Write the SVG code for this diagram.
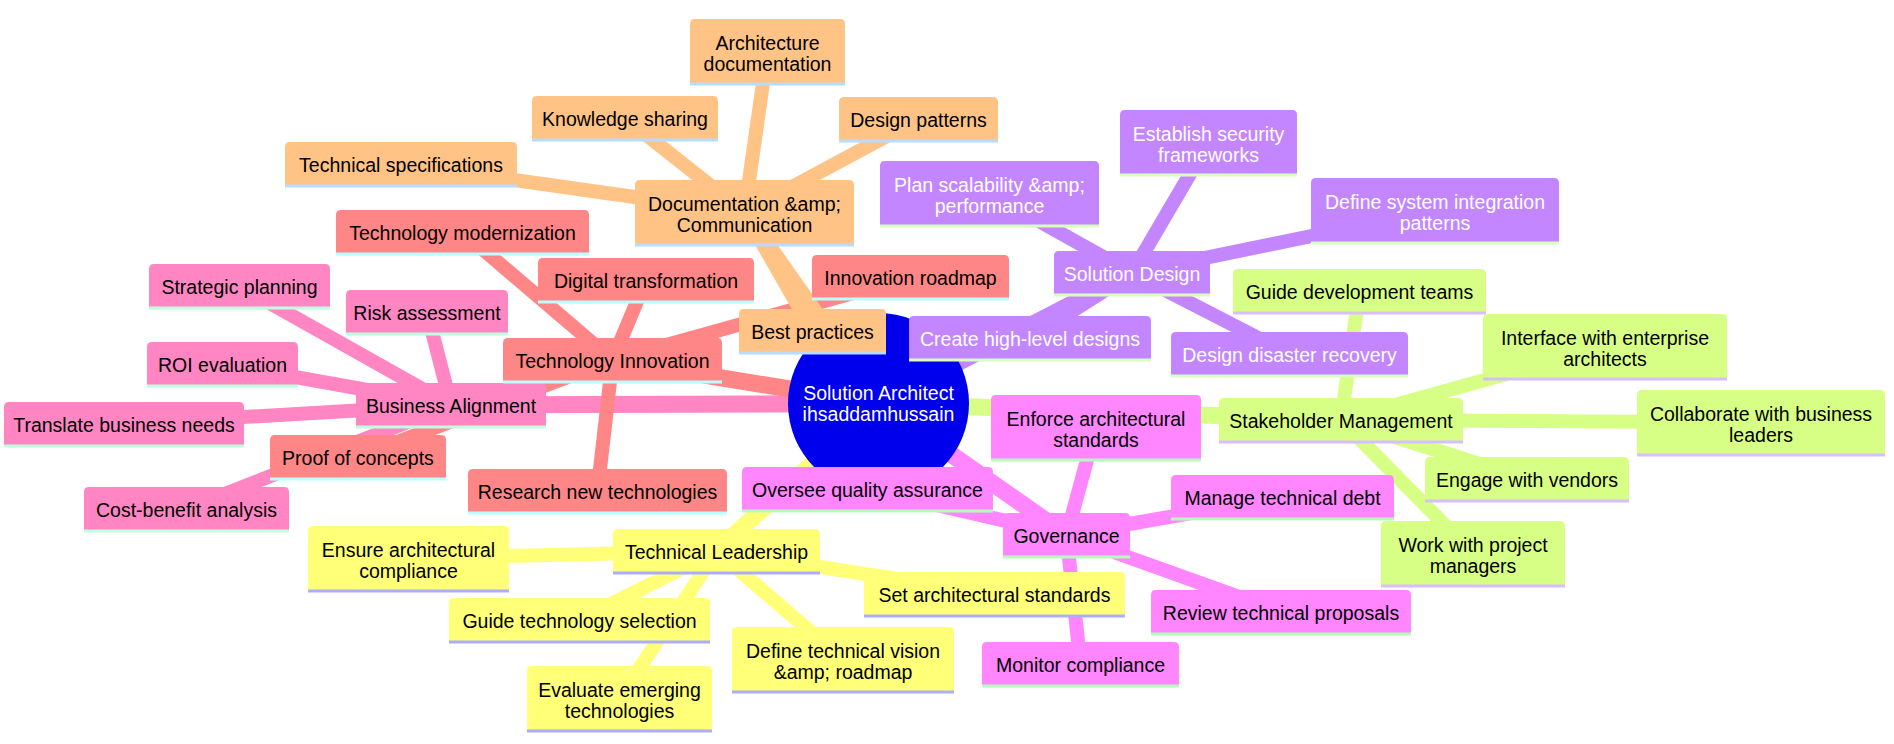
<svg xmlns="http://www.w3.org/2000/svg" width="1894" height="744" viewBox="0 0 1894 744">
<style>
text{font-family:"Liberation Sans",Arial,sans-serif;font-size:19.5px;text-anchor:middle;fill:#000}
.node line{stroke-width:3}
.c0{stroke:hsl(60,100%,73.5%)} .c1{stroke:hsl(80,100%,76.3%)} .c2{stroke:hsl(270,100%,76.3%)} .c3{stroke:hsl(300,100%,76.3%)} .c4{stroke:hsl(330,100%,76.3%)} .c5{stroke:hsl(0,100%,76.3%)} .c6{stroke:hsl(30,100%,76.3%)}
.d0{stroke-width:17;fill:none}
.d1{stroke-width:14;fill:none}
.s0 path{fill:hsl(60,100%,73.5%)} .s0 line{stroke:hsl(240,100%,84%)}
.s1 path{fill:hsl(80,100%,76.3%)} .s1 line{stroke:hsl(265,100%,87%)}
.s2 path{fill:hsl(270,100%,76.3%)} .s2 line{stroke:hsl(95,100%,87%)} .s2 text{fill:#fff}
.s3 path{fill:hsl(300,100%,76.3%)} .s3 line{stroke:hsl(125,90%,85%)}
.s4 path{fill:hsl(330,100%,76.3%)} .s4 line{stroke:hsl(150,100%,87%)}
.s5 path{fill:hsl(0,100%,76.3%)} .s5 line{stroke:hsl(180,100%,86%)}
.s6 path{fill:hsl(30,100%,76.3%)} .s6 line{stroke:hsl(210,100%,86%)}
.root circle{fill:hsl(240,100%,46.3%)} .root text{fill:#fff}
</style>
<rect width="1894" height="744" fill="#fff"/>
<g id="connectors">
<line class="c0 d0" x1="878.5" y1="403.5" x2="716.5" y2="551"/>
<line class="c0 d1" x1="716.5" y1="551" x2="408.5" y2="558.5"/>
<line class="c0 d1" x1="716.5" y1="551" x2="579.5" y2="620"/>
<line class="c0 d1" x1="716.5" y1="551" x2="619.5" y2="698.5"/>
<line class="c0 d1" x1="716.5" y1="551" x2="843" y2="659.5"/>
<line class="c0 d1" x1="716.5" y1="551" x2="994.5" y2="594"/>
<line class="c1 d0" x1="878.5" y1="403.5" x2="1341" y2="420"/>
<line class="c1 d1" x1="1341" y1="420" x2="1359.5" y2="291"/>
<line class="c1 d1" x1="1341" y1="420" x2="1605" y2="346.5"/>
<line class="c1 d1" x1="1341" y1="420" x2="1761" y2="422.5"/>
<line class="c1 d1" x1="1341" y1="420" x2="1527" y2="479"/>
<line class="c1 d1" x1="1341" y1="420" x2="1473" y2="553.5"/>
<line class="c2 d0" x1="878.5" y1="403.5" x2="1132" y2="273"/>
<line class="c2 d1" x1="1132" y1="273" x2="1030" y2="338"/>
<line class="c2 d1" x1="1132" y1="273" x2="989.5" y2="193.5"/>
<line class="c2 d1" x1="1132" y1="273" x2="1208.5" y2="142.5"/>
<line class="c2 d1" x1="1132" y1="273" x2="1435" y2="210.5"/>
<line class="c2 d1" x1="1132" y1="273" x2="1289.5" y2="354"/>
<line class="c3 d0" x1="878.5" y1="403.5" x2="1066.5" y2="535"/>
<line class="c3 d1" x1="1066.5" y1="535" x2="1096" y2="427.5"/>
<line class="c3 d1" x1="1066.5" y1="535" x2="867.5" y2="489"/>
<line class="c3 d1" x1="1066.5" y1="535" x2="1282.5" y2="497"/>
<line class="c3 d1" x1="1066.5" y1="535" x2="1281" y2="612"/>
<line class="c3 d1" x1="1066.5" y1="535" x2="1080.5" y2="664"/>
<line class="c4 d0" x1="878.5" y1="403.5" x2="451" y2="405"/>
<line class="c4 d1" x1="451" y1="405" x2="239.5" y2="286"/>
<line class="c4 d1" x1="451" y1="405" x2="427" y2="312"/>
<line class="c4 d1" x1="451" y1="405" x2="222.5" y2="364"/>
<line class="c4 d1" x1="451" y1="405" x2="124" y2="424"/>
<line class="c4 d1" x1="451" y1="405" x2="186.5" y2="509"/>
<line class="c5 d0" x1="878.5" y1="403.5" x2="612.5" y2="360"/>
<line class="c5 d1" x1="612.5" y1="360" x2="462.5" y2="232"/>
<line class="c5 d1" x1="612.5" y1="360" x2="646" y2="280"/>
<line class="c5 d1" x1="612.5" y1="360" x2="910.5" y2="277"/>
<line class="c5 d1" x1="612.5" y1="360" x2="358" y2="457"/>
<line class="c5 d1" x1="612.5" y1="360" x2="597.5" y2="491"/>
<line class="c6 d0" x1="878.5" y1="403.5" x2="744.5" y2="212.5"/>
<line class="c6 d1" x1="744.5" y1="212.5" x2="767.5" y2="51.5"/>
<line class="c6 d1" x1="744.5" y1="212.5" x2="625" y2="118"/>
<line class="c6 d1" x1="744.5" y1="212.5" x2="918.5" y2="119"/>
<line class="c6 d1" x1="744.5" y1="212.5" x2="401" y2="164"/>
<line class="c6 d1" x1="744.5" y1="212.5" x2="812.5" y2="331"/>
</g>
<g id="root" class="root">
<circle cx="878.5" cy="403.5" r="90.5"/>
<text x="878.5" y="399.5">Solution Architect</text>
<text x="878.5" y="420.5">ihsaddamhussain</text>
</g>
<g id="technical-leadership" class="node s0"><path d="M613,573V534Q613,529 618,529H815Q820,529 820,534V573Z"/><line x1="613" y1="573" x2="820" y2="573"/><text x="716.5" y="558.5">Technical Leadership</text></g>
<g id="ensure-compliance" class="node s0"><path d="M308,591V531Q308,526 313,526H504Q509,526 509,531V591Z"/><line x1="308" y1="591" x2="509" y2="591"/><text x="408.5" y="557">Ensure architectural</text><text x="408.5" y="578">compliance</text></g>
<g id="guide-tech-selection" class="node s0"><path d="M449,642V603Q449,598 454,598H705Q710,598 710,603V642Z"/><line x1="449" y1="642" x2="710" y2="642"/><text x="579.5" y="627.5">Guide technology selection</text></g>
<g id="evaluate-emerging" class="node s0"><path d="M527,731V671Q527,666 532,666H707Q712,666 712,671V731Z"/><line x1="527" y1="731" x2="712" y2="731"/><text x="619.5" y="697">Evaluate emerging</text><text x="619.5" y="718">technologies</text></g>
<g id="define-vision" class="node s0"><path d="M732,692V632Q732,627 737,627H949Q954,627 954,632V692Z"/><line x1="732" y1="692" x2="954" y2="692"/><text x="843" y="658">Define technical vision</text><text x="843" y="679">&amp;amp; roadmap</text></g>
<g id="set-standards" class="node s0"><path d="M864,616V577Q864,572 869,572H1120Q1125,572 1125,577V616Z"/><line x1="864" y1="616" x2="1125" y2="616"/><text x="994.5" y="601.5">Set architectural standards</text></g>
<g id="stakeholder-management" class="node s1"><path d="M1219,442V403Q1219,398 1224,398H1458Q1463,398 1463,403V442Z"/><line x1="1219" y1="442" x2="1463" y2="442"/><text x="1341" y="427.5">Stakeholder Management</text></g>
<g id="guide-dev-teams" class="node s1"><path d="M1233,313V274Q1233,269 1238,269H1481Q1486,269 1486,274V313Z"/><line x1="1233" y1="313" x2="1486" y2="313"/><text x="1359.5" y="298.5">Guide development teams</text></g>
<g id="interface-ea" class="node s1"><path d="M1483,379V319Q1483,314 1488,314H1722Q1727,314 1727,319V379Z"/><line x1="1483" y1="379" x2="1727" y2="379"/><text x="1605" y="345">Interface with enterprise</text><text x="1605" y="366">architects</text></g>
<g id="collaborate-business" class="node s1"><path d="M1637,455V395Q1637,390 1642,390H1880Q1885,390 1885,395V455Z"/><line x1="1637" y1="455" x2="1885" y2="455"/><text x="1761" y="421">Collaborate with business</text><text x="1761" y="442">leaders</text></g>
<g id="engage-vendors" class="node s1"><path d="M1425,501V462Q1425,457 1430,457H1624Q1629,457 1629,462V501Z"/><line x1="1425" y1="501" x2="1629" y2="501"/><text x="1527" y="486.5">Engage with vendors</text></g>
<g id="work-pm" class="node s1"><path d="M1381,586V526Q1381,521 1386,521H1560Q1565,521 1565,526V586Z"/><line x1="1381" y1="586" x2="1565" y2="586"/><text x="1473" y="552">Work with project</text><text x="1473" y="573">managers</text></g>
<g id="solution-design" class="node s2"><path d="M1054,295V256Q1054,251 1059,251H1205Q1210,251 1210,256V295Z"/><line x1="1054" y1="295" x2="1210" y2="295"/><text x="1132" y="280.5">Solution Design</text></g>
<g id="create-hld" class="node s2"><path d="M909,360V321Q909,316 914,316H1146Q1151,316 1151,321V360Z"/><line x1="909" y1="360" x2="1151" y2="360"/><text x="1030" y="345.5">Create high-level designs</text></g>
<g id="plan-scalability" class="node s2"><path d="M880,226V166Q880,161 885,161H1094Q1099,161 1099,166V226Z"/><line x1="880" y1="226" x2="1099" y2="226"/><text x="989.5" y="192">Plan scalability &amp;amp;</text><text x="989.5" y="213">performance</text></g>
<g id="security-frameworks" class="node s2"><path d="M1120,175V115Q1120,110 1125,110H1292Q1297,110 1297,115V175Z"/><line x1="1120" y1="175" x2="1297" y2="175"/><text x="1208.5" y="141">Establish security</text><text x="1208.5" y="162">frameworks</text></g>
<g id="integration-patterns" class="node s2"><path d="M1311,243V183Q1311,178 1316,178H1554Q1559,178 1559,183V243Z"/><line x1="1311" y1="243" x2="1559" y2="243"/><text x="1435" y="209">Define system integration</text><text x="1435" y="230">patterns</text></g>
<g id="disaster-recovery" class="node s2"><path d="M1171,376V337Q1171,332 1176,332H1403Q1408,332 1408,337V376Z"/><line x1="1171" y1="376" x2="1408" y2="376"/><text x="1289.5" y="361.5">Design disaster recovery</text></g>
<g id="governance" class="node s3"><path d="M1003,557V518Q1003,513 1008,513H1125Q1130,513 1130,518V557Z"/><line x1="1003" y1="557" x2="1130" y2="557"/><text x="1066.5" y="542.5">Governance</text></g>
<g id="enforce-standards" class="node s3"><path d="M991,460V400Q991,395 996,395H1196Q1201,395 1201,400V460Z"/><line x1="991" y1="460" x2="1201" y2="460"/><text x="1096" y="426">Enforce architectural</text><text x="1096" y="447">standards</text></g>
<g id="oversee-qa" class="node s3"><path d="M742,511V472Q742,467 747,467H988Q993,467 993,472V511Z"/><line x1="742" y1="511" x2="993" y2="511"/><text x="867.5" y="496.5">Oversee quality assurance</text></g>
<g id="manage-debt" class="node s3"><path d="M1171,519V480Q1171,475 1176,475H1389Q1394,475 1394,480V519Z"/><line x1="1171" y1="519" x2="1394" y2="519"/><text x="1282.5" y="504.5">Manage technical debt</text></g>
<g id="review-proposals" class="node s3"><path d="M1151,634V595Q1151,590 1156,590H1406Q1411,590 1411,595V634Z"/><line x1="1151" y1="634" x2="1411" y2="634"/><text x="1281" y="619.5">Review technical proposals</text></g>
<g id="monitor-compliance" class="node s3"><path d="M982,686V647Q982,642 987,642H1174Q1179,642 1179,647V686Z"/><line x1="982" y1="686" x2="1179" y2="686"/><text x="1080.5" y="671.5">Monitor compliance</text></g>
<g id="business-alignment" class="node s4"><path d="M356,427V388Q356,383 361,383H541Q546,383 546,388V427Z"/><line x1="356" y1="427" x2="546" y2="427"/><text x="451" y="412.5">Business Alignment</text></g>
<g id="strategic-planning" class="node s4"><path d="M149,308V269Q149,264 154,264H325Q330,264 330,269V308Z"/><line x1="149" y1="308" x2="330" y2="308"/><text x="239.5" y="293.5">Strategic planning</text></g>
<g id="risk-assessment" class="node s4"><path d="M346,334V295Q346,290 351,290H503Q508,290 508,295V334Z"/><line x1="346" y1="334" x2="508" y2="334"/><text x="427" y="319.5">Risk assessment</text></g>
<g id="roi-evaluation" class="node s4"><path d="M147,386V347Q147,342 152,342H293Q298,342 298,347V386Z"/><line x1="147" y1="386" x2="298" y2="386"/><text x="222.5" y="371.5">ROI evaluation</text></g>
<g id="translate-needs" class="node s4"><path d="M4,446V407Q4,402 9,402H239Q244,402 244,407V446Z"/><line x1="4" y1="446" x2="244" y2="446"/><text x="124" y="431.5">Translate business needs</text></g>
<g id="cost-benefit" class="node s4"><path d="M84,531V492Q84,487 89,487H284Q289,487 289,492V531Z"/><line x1="84" y1="531" x2="289" y2="531"/><text x="186.5" y="516.5">Cost-benefit analysis</text></g>
<g id="technology-innovation" class="node s5"><path d="M503,382V343Q503,338 508,338H717Q722,338 722,343V382Z"/><line x1="503" y1="382" x2="722" y2="382"/><text x="612.5" y="367.5">Technology Innovation</text></g>
<g id="tech-modernization" class="node s5"><path d="M336,254V215Q336,210 341,210H584Q589,210 589,215V254Z"/><line x1="336" y1="254" x2="589" y2="254"/><text x="462.5" y="239.5">Technology modernization</text></g>
<g id="digital-transformation" class="node s5"><path d="M538,302V263Q538,258 543,258H749Q754,258 754,263V302Z"/><line x1="538" y1="302" x2="754" y2="302"/><text x="646" y="287.5">Digital transformation</text></g>
<g id="innovation-roadmap" class="node s5"><path d="M812,299V260Q812,255 817,255H1004Q1009,255 1009,260V299Z"/><line x1="812" y1="299" x2="1009" y2="299"/><text x="910.5" y="284.5">Innovation roadmap</text></g>
<g id="proof-of-concepts" class="node s5"><path d="M270,479V440Q270,435 275,435H441Q446,435 446,440V479Z"/><line x1="270" y1="479" x2="446" y2="479"/><text x="358" y="464.5">Proof of concepts</text></g>
<g id="research-tech" class="node s5"><path d="M468,513V474Q468,469 473,469H722Q727,469 727,474V513Z"/><line x1="468" y1="513" x2="727" y2="513"/><text x="597.5" y="498.5">Research new technologies</text></g>
<g id="documentation" class="node s6"><path d="M635,245V185Q635,180 640,180H849Q854,180 854,185V245Z"/><line x1="635" y1="245" x2="854" y2="245"/><text x="744.5" y="211">Documentation &amp;amp;</text><text x="744.5" y="232">Communication</text></g>
<g id="architecture-docs" class="node s6"><path d="M690,84V24Q690,19 695,19H840Q845,19 845,24V84Z"/><line x1="690" y1="84" x2="845" y2="84"/><text x="767.5" y="50">Architecture</text><text x="767.5" y="71">documentation</text></g>
<g id="knowledge-sharing" class="node s6"><path d="M532,140V101Q532,96 537,96H713Q718,96 718,101V140Z"/><line x1="532" y1="140" x2="718" y2="140"/><text x="625" y="125.5">Knowledge sharing</text></g>
<g id="design-patterns" class="node s6"><path d="M839,141V102Q839,97 844,97H993Q998,97 998,102V141Z"/><line x1="839" y1="141" x2="998" y2="141"/><text x="918.5" y="126.5">Design patterns</text></g>
<g id="technical-specs" class="node s6"><path d="M285,186V147Q285,142 290,142H512Q517,142 517,147V186Z"/><line x1="285" y1="186" x2="517" y2="186"/><text x="401" y="171.5">Technical specifications</text></g>
<g id="best-practices" class="node s6"><path d="M739,353V314Q739,309 744,309H881Q886,309 886,314V353Z"/><line x1="739" y1="353" x2="886" y2="353"/><text x="812.5" y="338.5">Best practices</text></g>
</svg>
